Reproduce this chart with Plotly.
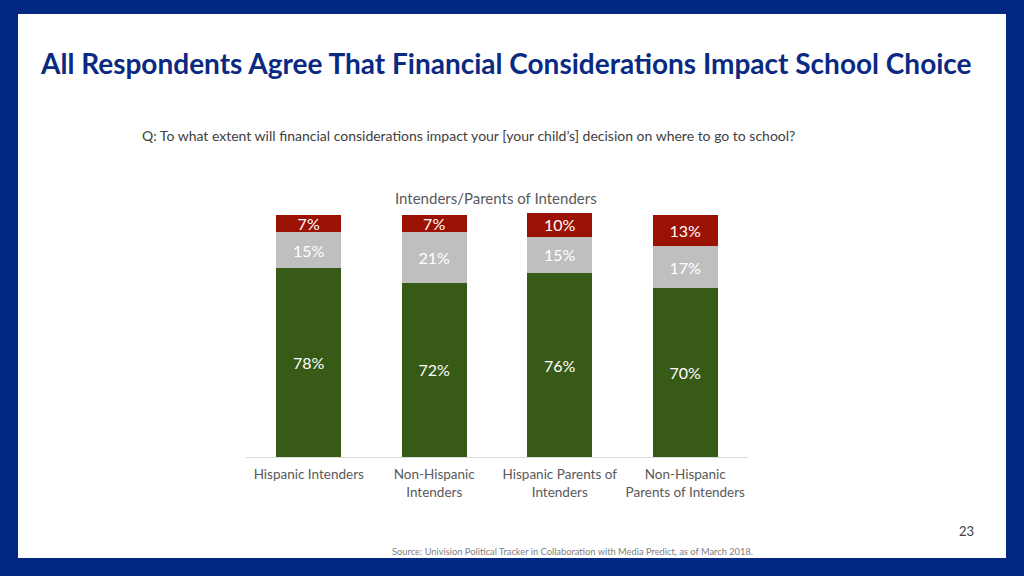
import plotly.graph_objects as go

categories = ["Hispanic Intenders", "Non-Hispanic<br>Intenders",
              "Hispanic Parents of<br>Intenders", "Non-Hispanic<br>Parents of Intenders"]
series_names = ["Yes", "Maybe", "No"]
green_vals = [78, 72, 76, 70]
gray_vals = [15, 21, 15, 17]
red_vals = [7, 7, 10, 13]

colors = ["#375a17", "#bfbfbf", "#9b1205"]
values = [green_vals, gray_vals, red_vals]

W, H = 1024, 576
fig = go.Figure()
for name, vals, col in zip(series_names, values, colors):
    fig.add_trace(go.Bar(
        x=categories, y=vals, name=name, marker=dict(color=col, line=dict(width=0)),
        text=[f"{v}%" for v in vals], textposition="inside", insidetextanchor="middle",
        constraintext="none",
        textfont=dict(color="white", size=16, family="Lato"), textangle=0,
        cliponaxis=False, showlegend=False, hoverinfo="skip",
    ))

fig.update_layout(
    width=W, height=H, barmode="stack", bargap=0.48,
    margin=dict(l=0, r=0, t=0, b=0),
    paper_bgcolor="#012983", plot_bgcolor="rgba(0,0,0,0)",
    font=dict(family="Lato", color="#595959"),
    xaxis=dict(domain=[246 / W, 748 / W], showline=True, linecolor="#d9d9d9", linewidth=1,
               ticks="", tickfont=dict(size=13.5, color="#595959", family="Lato"),
               ticklabelstandoff=5, showgrid=False, fixedrange=True),
    yaxis=dict(domain=[119 / H, 363.4 / H], range=[0, 101], visible=False, showgrid=False,
               fixedrange=True),
    shapes=[dict(type="rect", xref="paper", yref="paper", x0=18 / W, x1=1006 / W,
                 y0=(H - 558) / H, y1=(H - 14) / H, fillcolor="white", line=dict(width=0),
                 layer="below")],
    annotations=[
        dict(text="<b>All Respondents Agree That Financial Considerations Impact School Choice</b>",
             x=38 / W, y=(H - 63) / H, xref="paper", yref="paper", xanchor="left", yanchor="middle",
             showarrow=False, font=dict(size=28, color="#0a2a82", family="Lato")),
        dict(text="Q: To what extent will financial considerations impact your [your child’s] decision on where to go to school?",
             x=140 / W, y=(H - 135) / H, xref="paper", yref="paper", xanchor="left", yanchor="middle",
             showarrow=False, font=dict(size=14, color="#404040", family="Lato")),
        dict(text="Intenders/Parents of Intenders",
             x=496 / W, y=(H - 198) / H, xref="paper", yref="paper", xanchor="center", yanchor="middle",
             showarrow=False, font=dict(size=15, color="#595959", family="Lato")),
        dict(text="23", x=976 / W, y=(H - 531) / H, xref="paper", yref="paper", xanchor="right",
             yanchor="middle", showarrow=False, font=dict(size=13, color="#404040", family="Lato")),
        dict(text="Source: Univision Political Tracker in Collaboration with Media Predict, as of March 2018.",
             x=390 / W, y=(H - 551) / H, xref="paper", yref="paper", xanchor="left", yanchor="middle",
             showarrow=False, font=dict(size=9.3, color="#808080", family="Lato")),
    ],
)

fig.write_html("out.html", config={"displayModeBar": False},
               post_script="document.body.style.margin='0';document.body.style.overflow='hidden';")
